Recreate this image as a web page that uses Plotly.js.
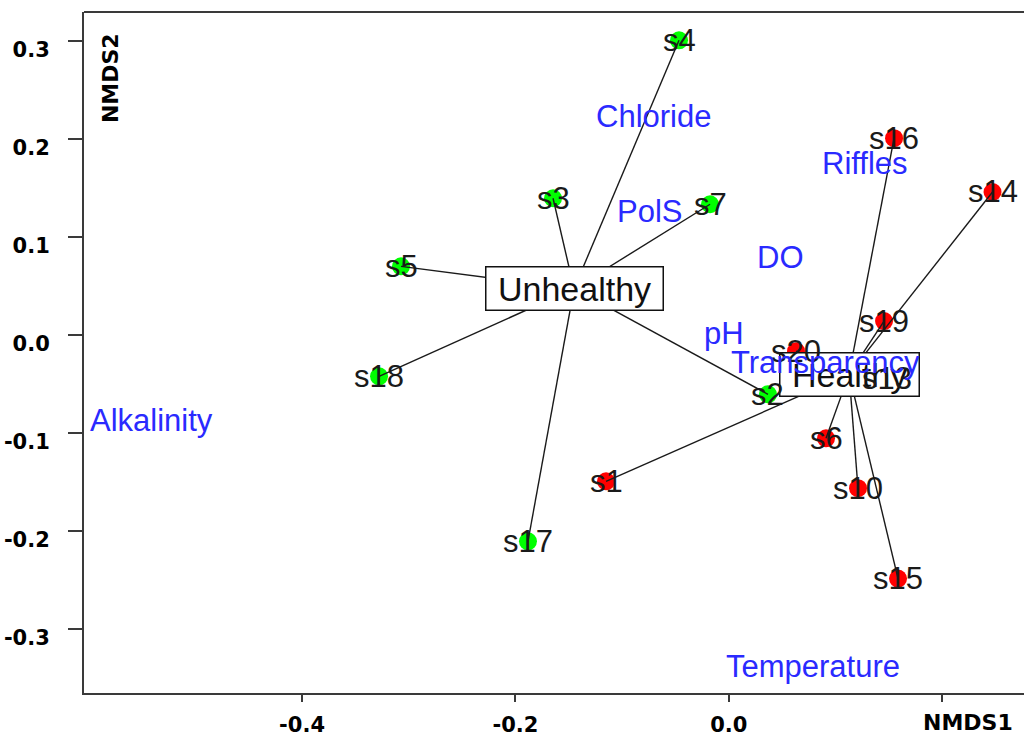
<!DOCTYPE html>
<html><head><meta charset="utf-8">
<script src="https://cdn.plot.ly/plotly-3.0.1.min.js"></script>
<style>html,body{margin:0;padding:0;background:#fff}#chart{width:1024px;height:736px}</style>
</head><body><div id="chart"></div>
<script>
// Site scores (NMDS1, NMDS2) by group
const unhealthySites = ['s4','s3','s7','s5','s18','s2','s17'];
const unhealthyX = [-0.0466,-0.1647,-0.0175,-0.3072,-0.3278,0.0368,-0.1882];
const unhealthyY = [0.3007,0.1394,0.1333,0.0699,-0.0424,-0.0608,-0.2109];
const healthySites = ['s16','s14','s19','s20','s13','s6','s1','s10','s15'];
const healthyX = [0.1550,0.2473,0.1456,0.0631,0.1484,0.0912,-0.1150,0.1212,0.1587];
const healthyY = [0.2007,0.1458,0.0140,-0.0168,-0.0444,-0.1057,-0.1496,-0.1567,-0.2490];
// Environmental variable label positions
const envVars = ['Chloride','Riffles','PolS','DO','pH','Transparency','Alkalinity','Temperature'];
const envX = [-0.0703,0.1275,-0.0747,0.0481,-0.0044,0.0903,-0.5413,0.0786];
const envY = [0.2231,0.1751,0.1254,0.0791,0.0015,-0.0278,-0.0873,-0.3383];
const groupNames = ['Unhealthy','Healthy'];
// Axis ticks
const xTickVals = [-0.4,-0.2,0.0,0.2];
const xTickText = ['-0.4','-0.2','0.0',''];
const yTickVals = [-0.3,-0.2,-0.1,0.0,0.1,0.2,0.3];
const yTickText = ['-0.3','-0.2','-0.1','0.0','0.1','0.2','0.3'];
const xAxisTitle = 'NMDS1';
const yAxisTitle = 'NMDS2';

function mean(a){return a.reduce((s,v)=>s+v,0)/a.length;}
function spider(xs, ys){
  const cx = mean(xs), cy = mean(ys);
  const lx = [], ly = [];
  xs.forEach((x,i)=>{lx.push(cx, x, null); ly.push(cy, ys[i], null);});
  return {cx, cy, lx, ly};
}
const spU = spider(unhealthyX, unhealthyY);
const spH = spider(healthyX, healthyY);

const traces = [
  {x: unhealthyX, y: unhealthyY, mode:'markers', type:'scatter',
   marker:{color:'#00ff00', size:18}, hoverinfo:'skip'},
  {x: healthyX, y: healthyY, mode:'markers', type:'scatter',
   marker:{color:'#ff0000', size:18}, hoverinfo:'skip'},
  {x: spU.lx, y: spU.ly, mode:'lines', type:'scatter',
   line:{color:'#1a1a1a', width:1.4}, hoverinfo:'skip'},
  {x: spH.lx, y: spH.ly, mode:'lines', type:'scatter',
   line:{color:'#1a1a1a', width:1.4}, hoverinfo:'skip'}
];

const labelFont = {family:'Liberation Sans, Arial, sans-serif', size:31, color:'#1a1a1a'};
const envFont = {family:'Liberation Sans, Arial, sans-serif', size:31, color:'#2a2aff'};
const boxFont = {family:'Liberation Sans, Arial, sans-serif', size:34, color:'#111'};
const axFont = {family:'DejaVu Sans, sans-serif', size:21, color:'#000', weight:'bold'};
const titleFont = {family:'DejaVu Sans, sans-serif', size:22, color:'#000', weight:'bold'};

const annotations = [];
[[spU, groupNames[0]], [spH, groupNames[1]]].forEach(([sp, name])=>{
  annotations.push({x: sp.cx, y: sp.cy, xref:'x', yref:'y', text:'\u00a0'+name+'\u00a0',
    showarrow:false, font:boxFont, bgcolor:'#ffffff', bordercolor:'#111',
    borderwidth:1.5, borderpad:2});
});
unhealthySites.forEach((s,i)=>annotations.push({x:unhealthyX[i], y:unhealthyY[i], text:s, showarrow:false, font:labelFont}));
healthySites.forEach((s,i)=>annotations.push({x:healthyX[i], y:healthyY[i], text:s, showarrow:false, font:labelFont}));
envVars.forEach((s,i)=>annotations.push({x:envX[i], y:envY[i], text:s, showarrow:false, font:envFont}));
annotations.push({x:0.1803, y:-0.043, xref:'x', yref:'paper', xanchor:'left', yanchor:'middle', text:xAxisTitle,
  showarrow:false, font:titleFont});
annotations.push({x:0.0277, y:0.903, xref:'paper', yref:'paper', xanchor:'center', yanchor:'middle',
  text:yAxisTitle, textangle:-90, showarrow:false, font:titleFont});

const axisCommon = {showgrid:false, zeroline:false, showline:true, linecolor:'#3a3a3a', linewidth:2,
  ticks:'outside', tickwidth:2, tickcolor:'#3a3a3a', tickfont:axFont, tickmode:'array', fixedrange:true};

const layout = {
  width:1024, height:736,
  margin:{l:84, r:0, t:12, b:43, pad:0},
  showlegend:false,
  paper_bgcolor:'#ffffff', plot_bgcolor:'#ffffff',
  xaxis: Object.assign({}, axisCommon, {range:[-0.6044,0.2768], tickvals:xTickVals, ticktext:xTickText,
    ticklen:7, ticklabelstandoff:5, ticklabelshift:0}),
  yaxis: Object.assign({}, axisCommon, {range:[-0.3658,0.3296], tickvals:yTickVals, ticktext:yTickText,
    ticklen:14, ticklabelstandoff:14, ticklabelshift:9}),
  annotations: annotations,
  shapes:[{type:'line', xref:'paper', yref:'paper', x0:0, x1:1, y0:1, y1:1,
    line:{color:'#3a3a3a', width:2}}]
};

Plotly.newPlot('chart', traces, layout, {displayModeBar:false, staticPlot:true});
</script></body></html>
